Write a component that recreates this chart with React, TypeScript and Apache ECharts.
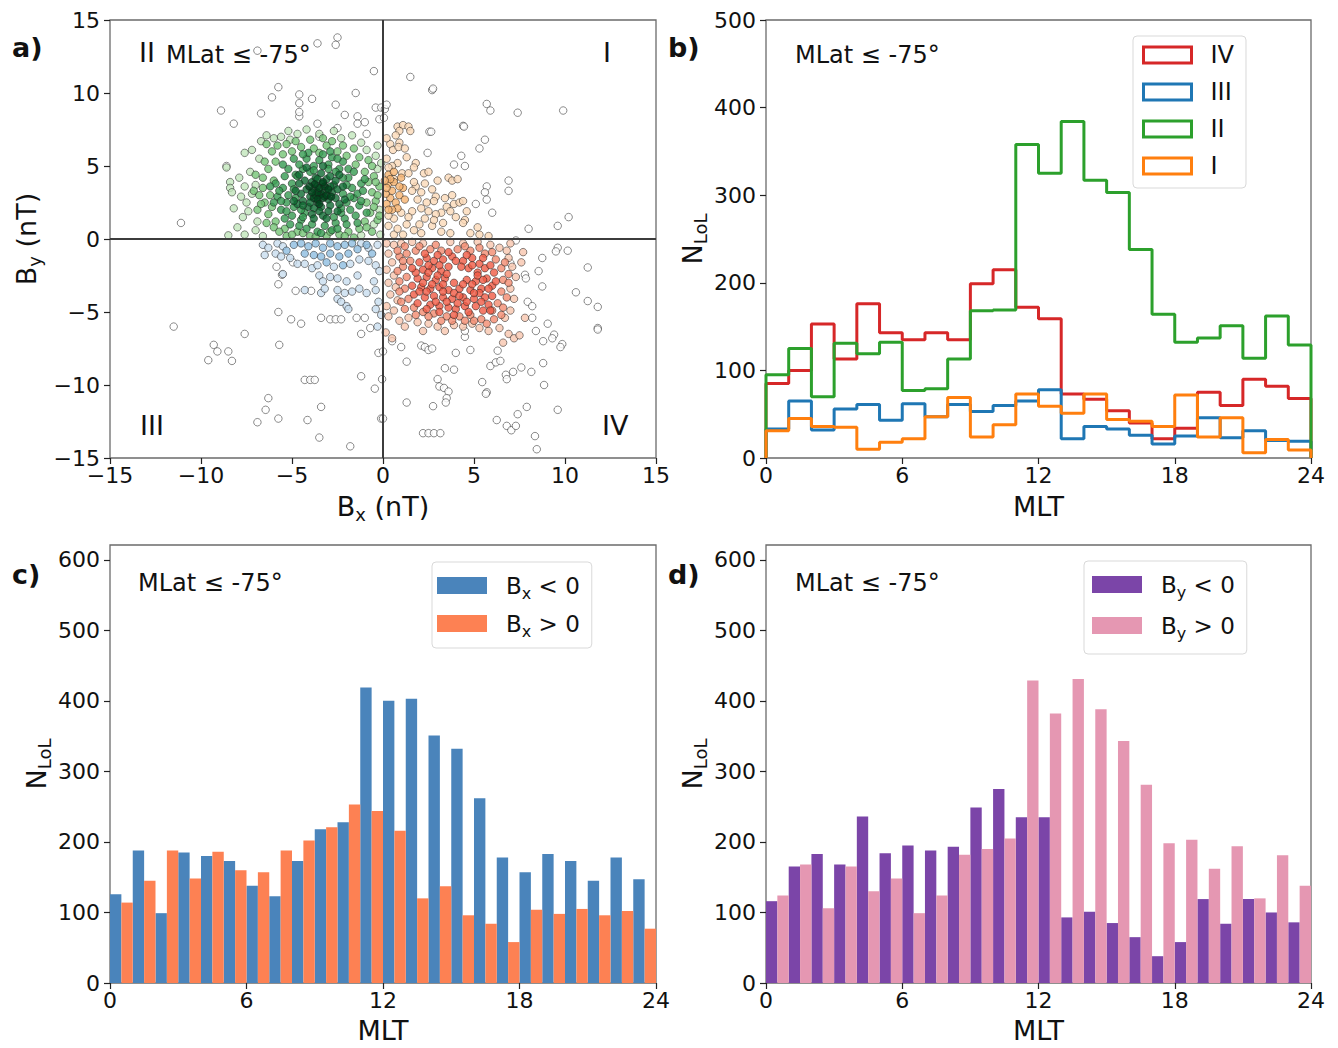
import { useEffect, useRef } from 'react';
import * as echarts from 'echarts';

// ---------------- data ----------------
const MLT_BINS = [0, 1, 2, 3, 4, 5, 6, 7, 8, 9, 10, 11, 12, 13, 14, 15, 16, 17, 18, 19, 20, 21, 22, 23];
const MLT_TICKS = [0, 6, 12, 18, 24];
const B_TICKS = [-15, -10, -5, 0, 5, 10, 15];
const COUNT_TICKS_B = [0, 100, 200, 300, 400, 500];
const COUNT_TICKS_CD = [0, 100, 200, 300, 400, 500, 600];

// panel b: step histograms per quadrant
const HIST_IV = [85, 100, 153, 113, 176, 143, 135, 143, 135, 199, 215, 172, 159, 73, 67, 54, 40, 22, 34, 75, 60, 90, 82, 68];
const HIST_III = [33, 65, 32, 56, 61, 43, 62, 47, 61, 53, 60, 65, 78, 22, 36, 33, 26, 16, 25, 46, 23, 31, 20, 19];
const HIST_II = [95, 125, 70, 131, 119, 132, 77, 79, 113, 168, 169, 358, 325, 384, 317, 303, 238, 164, 132, 137, 151, 114, 162, 129];
const HIST_I = [31, 45, 36, 35, 10, 18, 22, 47, 69, 24, 38, 73, 59, 51, 73, 44, 42, 36, 72, 24, 46, 6, 21, 9];

// panel c
const BX_NEG = [126, 188, 99, 185, 180, 173, 138, 123, 173, 218, 228, 419, 400, 403, 351, 332, 262, 178, 157, 183, 173, 145, 178, 147];
const BX_POS = [114, 145, 188, 148, 186, 160, 157, 188, 202, 221, 253, 244, 216, 120, 137, 96, 84, 58, 104, 98, 105, 96, 102, 77];
// panel d
const BY_NEG = [116, 165, 183, 168, 236, 184, 195, 188, 193, 249, 275, 235, 235, 93, 101, 85, 65, 38, 58, 119, 84, 119, 100, 86];
const BY_POS = [124, 168, 106, 165, 130, 148, 99, 124, 182, 190, 205, 429, 382, 431, 388, 343, 281, 198, 203, 162, 194, 120, 181, 138];

// panel a: scatter points (Bx, By) grouped by quadrant and density tier
const Q2_CORE = [[-3.4,3.1],[-3.6,3.2],[-3.3,2.8],[-3.5,3.5],[-3.1,3.0],[-3.8,2.8],[-3.6,2.7],[-3.2,3.6],[-3.9,3.2],[-3.0,3.4],[-3.5,2.4],[-3.3,3.9],[-3.75,3.75],[-2.85,2.9],[-4.05,3.6]];
const Q2_DARK = [[-3.5,3.0],[-3.2,3.3],[-3.8,3.4],[-3.0,2.7],[-3.6,2.5],[-4.0,2.9],[-3.3,3.8],[-2.8,3.2],[-3.9,3.9],[-4.2,3.4],[-3.4,2.2],[-2.9,2.3],[-3.7,4.2],[-3.1,4.1],[-4.4,2.6],[-2.6,2.8],[-2.7,3.7],[-4.1,2.2],[-3.5,1.9],[-3.0,1.9],[-4.5,3.1],[-2.5,3.4],[-3.6,3.6],[-3.2,2.9],[-3.8,2.1],[-4.3,4.0],[-2.9,4.3],[-3.4,4.5],[-2.4,2.4],[-4.6,3.8],[-3.9,1.7],[-2.6,4.0],[-3.3,1.6],[-4.7,2.4],[-3.7,3.0],[-4.8,3.3],[-4.6,4.4],[-4.2,4.9],[-3.3,5.0],[-2.4,4.4],[-2.2,3.6],[-2.1,2.7],[-2.5,1.9],[-3.1,1.4],[-3.8,1.4],[-4.4,2.3],[-4.9,2.6],[-2.9,3.6],[-4.0,2.5],[-3.6,4.1]];
const Q2_RING = [[-5.2,3.0],[-5.0,3.8],[-4.9,2.2],[-5.3,2.5],[-4.8,4.4],[-4.4,4.8],[-3.8,5.0],[-3.0,5.1],[-2.4,4.8],[-1.9,4.2],[-1.7,3.5],[-1.6,2.8],[-1.8,2.0],[-2.1,1.4],[-2.6,1.1],[-3.2,0.9],[-3.9,1.0],[-4.5,1.3],[-5.0,1.6],[-5.5,3.5],[-2.2,3.1],[-2.0,2.5],[-4.9,3.4],[-1.4,3.1],[-2.2,5.3],[-3.5,5.4],[-4.2,5.5],[-5.4,4.3],[-1.3,2.3],[-1.5,1.6],[-2.8,0.6],[-4.2,0.7],[-5.6,2.0],[-1.9,4.8],[-5.8,2.9],[-4.6,5.1],[-2.8,5.6],[-1.2,3.8],[-3.6,0.5],[-5.1,1.0],[-4.3,1.8],[-2.3,1.8],[-2.2,4.2],[-4.7,4.3],[-2.0,3.7],[-4.8,2.8],[-4.0,4.6],[-2.6,4.6],[-3.0,4.8],[-3.8,4.7],[-4.4,1.5],[-2.7,1.5],[-2.3,2.1],[-4.5,2.0],[-1.8,2.9],[-5.6,2.6],[-5.4,1.4],[-5.9,3.8],[-5.2,4.8],[-4.9,5.5],[-4.1,5.9],[-3.3,5.8],[-2.5,5.5],[-1.6,4.6],[-1.1,3.3],[-1.2,2.6],[-1.4,1.1],[-2.0,1.0],[-2.5,0.7],[-3.4,0.4],[-4.6,0.9],[-5.3,1.9],[-5.7,3.3],[-1.0,4.1],[-0.9,1.8],[-2.9,6.0],[-4.4,5.8],[-5.5,5.1],[-6.0,2.5],[-6.2,3.6]];
const Q2_MID = [[-6.2,3.0],[-6.5,2.5],[-6.0,4.0],[-6.3,4.8],[-5.9,5.3],[-5.5,5.8],[-5.0,6.0],[-4.5,6.3],[-3.8,6.2],[-3.1,6.4],[-2.5,6.0],[-2.0,5.7],[-1.5,5.1],[-1.0,4.6],[-0.8,3.9],[-0.6,3.2],[-0.9,2.5],[-0.7,1.8],[-1.0,1.2],[-1.3,0.7],[-1.9,0.5],[-2.4,0.3],[-3.1,0.2],[-4.0,0.2],[-4.7,0.5],[-5.4,0.7],[-5.9,1.2],[-6.3,1.7],[-6.6,3.5],[-6.1,2.2],[-0.5,4.3],[-0.4,2.6],[-0.3,1.3],[-1.6,6.2],[-4.0,6.8],[-5.8,6.4],[-6.6,4.2],[-6.9,2.0],[-0.8,5.4],[-2.8,6.7],[-3.5,5.9],[-0.2,3.6],[-6.0,0.8],[-5.3,0.2],[-0.6,0.5],[-1.6,0.1],[-6.8,3.0],[-6.5,5.3],[-6.1,6.0],[-5.3,6.5],[-4.8,6.7],[-3.3,6.9],[-2.2,6.4],[-1.3,5.6],[-0.6,5.0],[-0.4,3.9],[-0.3,3.0],[-0.5,2.2],[-0.2,1.6],[-0.9,0.8],[-2.1,0.2],[-2.9,0.5],[-3.7,0.15],[-4.4,0.4],[-5.0,0.3],[-5.7,0.5],[-6.4,1.1],[-6.7,2.4],[-7.1,3.3],[-7.0,4.4],[-6.4,6.5]];
const Q2_LIGHT = [[-8.6,4.9],[-8.4,3.9],[-8.4,3.5],[-8.3,3.2],[-8.2,2.1],[-7.7,1.5],[-8.5,0.25],[-7.6,0.3],[-7.0,0.6],[-7.2,3.1],[-7.6,3.6],[-7.0,3.7],[-7.6,5.9],[-7.2,6.1],[-6.7,6.7],[-6.4,7.1],[-6.0,6.9],[-5.6,7.0],[-5.1,6.8],[-4.7,7.2],[-4.2,7.5],[-3.5,7.2],[-2.7,7.4],[-2.3,6.9],[-1.7,7.1],[-1.2,6.6],[-0.9,6.1],[-0.4,5.7],[-0.3,4.8],[-0.2,2.0],[-0.5,1.0],[-0.15,0.3],[-1.2,0.25],[-6.8,5.5],[-7.3,4.6],[-7.5,2.5],[-6.9,1.2],[-7.4,1.9],[-6.6,0.2],[-7.9,4.2],[-5.2,7.4],[-0.1,5.2],[-0.3,6.4],[-7.8,2.9],[-8.0,0.8]];
const Q2_WHITE = [[-6.9,12.9],[-3.6,13.4],[-2.5,13.8],[-2.6,13.3],[-0.5,11.5],[-5.75,10.4],[-6.1,9.7],[-4.6,9.9],[-3.9,9.6],[-4.6,9.3],[-4.6,8.4],[-4.6,8.7],[-6.7,8.6],[-8.9,8.8],[-8.2,7.9],[-2.6,9.2],[-1.5,10.0],[-0.4,9.0],[-0.1,9.0],[-2.1,8.5],[-1.4,8.4],[-1.4,7.9],[-3.6,7.9],[-2.5,7.6],[-0.9,7.2],[-3.5,7.0],[-8.6,5.0],[-11.1,1.1],[-0.2,8.2],[-1.0,8.0]];

const Q1_MID = [[0.3,3.8],[0.5,3.3],[0.4,2.8],[0.7,2.5],[0.9,3.0],[0.6,3.9],[0.2,2.4],[0.8,2.1],[1.1,3.5],[0.3,4.4],[1.0,4.2],[0.5,2.0],[1.2,2.7],[0.15,3.1],[0.2,3.5],[0.6,4.6],[0.3,2.0],[0.9,3.6],[0.4,4.1],[0.1,4.0]];
const Q1_LIGHT = [[0.8,7.7],[1.1,7.8],[1.4,7.7],[1.5,7.4],[0.9,7.4],[0.4,6.5],[0.9,6.6],[0.55,6.1],[0.85,6.3],[0.8,5.2],[1.8,5.2],[1.7,4.9],[1.05,4.5],[1.4,4.5],[0.6,4.1],[2.25,4.5],[2.5,4.6],[3.6,4.2],[3.8,4.0],[4.1,4.1],[1.8,3.6],[1.7,3.9],[1.6,3.3],[2.7,3.4],[2.9,2.9],[2.8,2.6],[3.4,2.8],[3.8,3.0],[3.9,2.4],[3.5,2.2],[3.7,1.9],[3.2,1.8],[2.9,1.7],[4.2,2.5],[4.4,2.6],[2.4,2.5],[2.5,1.9],[2.3,1.4],[1.6,1.9],[1.4,1.5],[0.6,1.4],[4.5,1.3],[4.4,1.1],[3.3,1.1],[3.2,0.5],[3.7,0.4],[2.1,0.4],[1.1,0.3],[0.6,0.3],[4.8,0.4],[5.3,0.3],[5.8,0.2],[5.2,0.8],[2.0,1.0],[1.3,1.0],[0.3,0.9],[0.2,5.5],[0.5,5.0],[0.3,4.9],[1.3,5.6],[1.2,6.2],[0.2,6.9],[0.7,7.1],[2.1,3.2],[2.3,3.8],[1.9,2.7],[2.1,2.1],[1.0,1.8],[0.3,1.6],[0.8,0.7],[1.7,0.6],[2.7,0.9],[2.8,1.3],[4.0,1.5],[4.6,1.9],[3.0,4.0]];
const Q1_WHITE = [[1.5,11.1],[2.7,10.2],[2.75,10.3],[5.7,9.25],[5.9,8.8],[7.4,8.65],[9.9,8.8],[4.4,7.75],[4.45,7.7],[2.55,7.35],[2.65,7.35],[5.6,6.8],[5.3,6.2],[4.3,5.7],[2.45,5.9],[4.5,5.0],[3.9,5.1],[6.9,4.0],[6.9,3.3],[5.7,3.6],[5.6,3.2],[5.7,2.7],[5.1,2.4],[6.0,1.8],[10.2,1.5],[9.6,0.9],[8.0,0.7],[0.05,8.3],[0.1,8.9],[0.2,9.2]];

const Q3_MID = [[-4.9,-0.4],[-4.5,-0.3],[-4.1,-0.5],[-3.7,-0.3],[-3.3,-0.6],[-2.9,-0.3],[-2.5,-0.5],[-2.1,-0.4],[-1.7,-0.3],[-4.3,-1.0],[-3.8,-1.1],[-3.4,-1.2],[-2.9,-1.0],[-2.4,-1.2],[-1.9,-1.0],[-1.4,-0.7],[-5.3,-0.8],[-3.1,-1.6],[-2.2,-1.8],[-0.9,-0.4],[-0.6,-1.0]];
const Q3_LIGHT = [[-6.6,-0.4],[-6.3,-0.6],[-5.8,-0.3],[-5.5,-0.5],[-1.2,-0.3],[-0.8,-0.6],[-0.3,-0.4],[-6.5,-1.1],[-5.9,-1.0],[-5.6,-1.2],[-5.1,-1.3],[-4.7,-1.7],[-4.3,-1.7],[-3.9,-2.0],[-3.6,-1.8],[-2.7,-1.9],[-1.8,-1.7],[-1.3,-1.4],[-0.8,-1.5],[-0.4,-1.8],[-5.5,-2.4],[-3.5,-2.5],[-3.3,-2.9],[-2.9,-2.6],[-2.5,-2.7],[-2.0,-2.9],[-1.4,-2.5],[-0.5,-2.9],[-0.2,-2.2],[-4.3,-3.5],[-3.4,-3.7],[-3.2,-3.4],[-2.5,-3.5],[-2.1,-3.7],[-1.7,-3.6],[-1.3,-3.4],[-0.9,-3.7],[-0.4,-3.5],[-2.5,-4.1],[-2.3,-4.3],[-2.0,-4.6],[-1.9,-4.8],[-0.4,-4.8],[-0.25,-4.3],[-0.1,-5.2],[-0.3,-6.0]];
const Q3_WHITE = [[-11.5,-6.0],[-7.6,-6.5],[-9.3,-7.25],[-9.1,-7.7],[-8.5,-7.7],[-9.6,-8.3],[-8.3,-8.35],[-5.7,-7.25],[-5.75,-5.0],[-5.05,-5.5],[-4.5,-5.8],[-3.4,-5.4],[-2.9,-5.5],[-2.6,-5.5],[-2.3,-5.5],[-1.45,-5.4],[-1.0,-5.4],[-0.7,-6.1],[-1.2,-6.5],[-0.25,-7.8],[-1.2,-9.4],[-0.45,-10.25],[-4.3,-9.65],[-4.0,-9.65],[-3.75,-9.65],[-6.3,-10.9],[-6.45,-11.7],[-5.75,-12.3],[-6.9,-12.55],[-4.15,-12.4],[-3.4,-11.5],[-3.5,-13.6],[-1.8,-14.2],[-0.1,-12.3],[-4.8,-3.55],[-3.95,-3.55],[-5.75,-3.1],[-5.55,-2.45],[-5.85,-1.9],[-4.95,-1.6]];

const Q4_CORE = [[2.0,-1.6],[2.4,-1.3],[2.8,-1.5],[3.3,-1.4],[3.8,-1.2],[4.4,-1.5],[4.9,-1.3],[5.3,-1.7],[2.2,-2.1],[2.7,-2.0],[3.2,-2.2],[3.6,-1.9],[4.7,-2.0],[5.2,-2.3],[5.6,-2.0],[1.9,-2.7],[2.4,-2.6],[2.9,-2.8],[3.4,-2.7],[3.9,-3.0],[4.6,-2.8],[5.1,-2.9],[5.7,-2.7],[2.1,-3.3],[2.6,-3.4],[3.1,-3.3],[3.6,-3.5],[4.2,-3.4],[4.8,-3.5],[5.4,-3.4],[2.3,-4.0],[2.8,-3.9],[3.3,-4.0],[3.8,-4.1],[4.4,-4.0],[5.0,-4.1],[5.6,-4.0],[2.6,-4.5],[3.1,-4.6],[3.6,-4.7],[4.5,-4.6],[5.1,-4.6],[5.5,-4.9],[4.0,-4.8],[6.0,-3.2],[6.1,-2.3],[1.7,-3.8],[2.5,-2.3],[3.0,-2.5],[3.5,-2.4],[2.2,-3.0],[2.7,-3.1],[3.3,-3.6],[3.9,-3.7],[4.4,-3.1],[4.9,-3.1],[5.3,-3.7],[5.8,-3.4],[2.0,-3.6],[4.6,-4.3],[5.2,-2.5],[4.3,-1.9],[3.1,-1.8],[2.5,-1.8],[1.8,-2.3],[5.8,-4.5],[2.9,-4.3],[3.5,-4.3],[4.1,-4.4],[5.4,-4.3],[4.9,-1.8],[2.3,-1.0],[3.0,-1.1],[3.6,-0.9],[4.6,-1.1],[5.5,-1.3],[5.9,-1.8],[6.2,-2.9],[6.0,-3.9],[5.9,-4.9],[4.7,-5.0],[3.9,-5.2],[3.1,-5.0],[2.4,-4.8],[1.9,-4.4],[1.6,-3.2],[1.6,-2.0],[4.0,-1.5],[4.2,-3.9],[3.3,-3.1],[2.4,-3.6],[5.0,-3.7],[5.5,-2.8]];
const Q4_MID = [[1.3,-1.0],[1.8,-0.8],[2.6,-0.7],[3.2,-0.8],[4.1,-0.7],[4.8,-0.8],[5.6,-1.0],[6.2,-1.4],[6.5,-2.0],[6.6,-2.8],[6.5,-3.6],[6.3,-4.4],[6.0,-4.9],[6.1,-5.5],[5.4,-5.5],[4.8,-5.2],[4.2,-5.3],[3.5,-5.3],[2.8,-5.1],[2.2,-5.0],[1.7,-4.7],[1.4,-4.1],[1.2,-3.4],[1.3,-2.6],[1.1,-1.9],[1.5,-1.5],[0.9,-1.2],[0.8,-0.8],[1.2,-0.5],[2.0,-0.5],[2.9,-0.4],[4.5,-0.5],[5.3,-0.6],[6.0,-0.9],[6.7,-1.6],[6.9,-2.4],[6.9,-3.0],[6.8,-4.0],[6.6,-4.7],[6.5,-5.2],[5.7,-5.8],[5.0,-5.6],[4.5,-5.6],[3.8,-5.6],[3.2,-5.6],[2.5,-5.3],[1.8,-5.2],[1.2,-4.8],[1.0,-4.3],[0.9,-3.6],[0.9,-2.9],[0.8,-2.2],[1.1,-1.5]];
const Q4_LIGHT = [[0.2,-0.3],[0.6,-0.4],[1.0,-0.3],[1.6,-0.2],[2.2,-0.3],[3.7,-0.2],[4.4,-0.3],[5.2,-0.2],[5.9,-0.4],[6.4,-0.6],[6.8,-0.8],[7.0,-0.3],[0.3,-1.0],[0.5,-1.6],[0.2,-2.1],[0.6,-2.5],[0.3,-3.0],[0.7,-3.3],[0.4,-3.8],[0.8,-4.2],[0.2,-4.6],[0.6,-4.9],[0.3,-5.3],[0.9,-5.6],[1.4,-5.4],[1.9,-5.7],[2.5,-5.8],[3.0,-6.0],[3.4,-6.3],[3.9,-5.9],[4.4,-6.0],[4.9,-5.8],[5.3,-6.1],[5.8,-6.3],[6.4,-6.1],[6.7,-5.4],[7.0,-4.9],[7.2,-4.1],[7.0,-3.4],[7.3,-2.6],[7.1,-1.9],[6.9,-1.3],[7.6,-1.6],[7.7,-0.9],[0.15,-6.4],[0.5,-6.8],[6.9,-6.5],[7.2,-6.8],[7.5,-6.6],[6.6,-7.1],[7.8,-5.4],[1.2,-6.0],[2.2,-6.3]];
const Q4_WHITE = [[9.6,-0.6],[9.5,-0.85],[10.15,-0.8],[11.25,-1.95],[10.6,-3.65],[11.25,-4.25],[11.8,-4.65],[11.8,-6.1],[11.8,-6.2],[8.75,-1.3],[8.55,-2.2],[7.8,-2.45],[7.85,-2.7],[8.75,-3.25],[7.95,-4.3],[8.2,-4.6],[8.2,-5.4],[8.4,-6.3],[9.05,-5.8],[8.8,-7.0],[9.4,-6.55],[9.3,-6.8],[9.85,-7.2],[9.75,-7.4],[7.0,-1.65],[7.3,-0.1],[1.3,-8.4],[1.3,-11.2],[2.1,-7.3],[2.3,-7.4],[2.5,-7.6],[2.7,-7.5],[3.4,-8.85],[3.9,-8.95],[3.0,-9.6],[3.1,-10.1],[3.35,-10.2],[3.6,-10.45],[3.5,-10.9],[3.45,-11.2],[2.75,-11.45],[2.2,-13.3],[2.5,-13.3],[2.8,-13.3],[3.15,-13.3],[4.0,-7.8],[4.5,-6.7],[4.8,-7.6],[4.5,-6.3],[5.45,-9.8],[5.7,-10.5],[5.65,-10.6],[5.9,-8.7],[6.2,-8.45],[6.45,-8.35],[6.3,-7.65],[6.25,-12.4],[6.75,-9.3],[6.8,-9.6],[7.15,-9.1],[7.6,-8.8],[8.15,-9.1],[8.8,-8.5],[8.85,-10.0],[7.4,-12.0],[7.9,-11.5],[6.8,-12.8],[7.05,-13.1],[7.3,-12.8],[9.6,-11.7],[8.35,-13.5],[8.45,-14.4],[0.0,-12.3],[-0.05,-9.6],[0.0,-7.7],[0.5,-7.0],[1.0,-7.4]];

// ---------------- styling ----------------
const FONT = 'DejaVu Sans';
const INK = '#111111';
const fmt = (v: number) => (v < 0 ? '\u2212' + Math.abs(v) : String(v));

const NAME_RICH = {
  n: { fontSize: 27, fontFamily: FONT, color: INK, lineHeight: 27 },
  s: { fontSize: 18, fontFamily: FONT, color: INK, lineHeight: 27, padding: [16, 0, 0, 0] },
};

function valueAxis(gridIndex: number, min: number, max: number, ticks: number[], name: string, nameGap: number, isY: boolean) {
  const step = ticks[1] - ticks[0];
  return {
    type: 'value',
    gridIndex,
    min,
    max,
    interval: step,
    name,
    nameLocation: 'middle',
    nameGap,
    nameRotate: isY ? 90 : 0,
    nameTextStyle: { fontFamily: FONT, fontSize: 27, color: INK, lineHeight: 27, rich: NAME_RICH },
    axisLine: { show: false, onZero: false },
    axisTick: { show: true, inside: false, length: 6, customValues: ticks, lineStyle: { color: '#222', width: 1.2 } },
    axisLabel: {
      show: true,
      customValues: ticks,
      fontFamily: FONT,
      fontSize: 22,
      color: INK,
      margin: isY ? 10 : 6,
      formatter: (v: number) => (ticks.indexOf(v) >= 0 ? fmt(v) : ''),
    },
    splitLine: { show: false },
  };
}

function stepPoints(values: number[]) {
  const pts: number[][] = [[MLT_BINS[0], 0]];
  values.forEach((v, i) => {
    pts.push([MLT_BINS[i], v]);
    pts.push([MLT_BINS[i] + 1, v]);
  });
  pts.push([MLT_BINS[MLT_BINS.length - 1] + 1, 0]);
  return pts;
}

function stepSeries(name: string, values: number[], color: string) {
  return {
    type: 'line',
    name,
    xAxisIndex: 1,
    yAxisIndex: 1,
    data: stepPoints(values),
    showSymbol: false,
    symbol: 'none',
    lineStyle: { color, width: 3 },
    itemStyle: { color },
    silent: true,
  };
}

function histBars(name: string, values: number[], offset: number, color: string, axisIndex: number) {
  return {
    type: 'custom',
    name,
    xAxisIndex: axisIndex,
    yAxisIndex: axisIndex,
    data: MLT_BINS.map((h, i) => [h + offset, values[i], h + offset + 0.5]),
    encode: { x: [0, 2], y: 1 },
    itemStyle: { color },
    silent: true,
    renderItem: (_params: any, api: any) => {
      const p0 = api.coord([api.value(0), api.value(1)]);
      const p1 = api.coord([api.value(2), 0]);
      return {
        type: 'rect',
        shape: { x: p0[0], y: p0[1], width: p1[0] - p0[0], height: p1[1] - p0[1] },
        style: { fill: color },
      };
    },
  };
}

const SCATTER_LAYERS = [
  { name: 'q2-white', data: Q2_WHITE, color: '#ffffff' },
  { name: 'q1-white', data: Q1_WHITE, color: '#ffffff' },
  { name: 'q3-white', data: Q3_WHITE, color: '#ffffff' },
  { name: 'q4-white', data: Q4_WHITE, color: '#ffffff' },
  { name: 'q2-light', data: Q2_LIGHT, color: '#c2e6bb' },
  { name: 'q1-light', data: Q1_LIGHT, color: '#fbdab8' },
  { name: 'q3-light', data: Q3_LIGHT, color: '#c8ddef' },
  { name: 'q4-light', data: Q4_LIGHT, color: '#f8c5ae' },
  { name: 'q2-mid', data: Q2_MID, color: '#74c476' },
  { name: 'q1-mid', data: Q1_MID, color: '#f6b36f' },
  { name: 'q3-mid', data: Q3_MID, color: '#8dbde0' },
  { name: 'q4-mid', data: Q4_MID, color: '#f38b6f' },
  { name: 'q2-ring', data: Q2_RING, color: '#359a50' },
  { name: 'q4-core', data: Q4_CORE, color: '#f05a44' },
  { name: 'q2-dark', data: Q2_DARK, color: '#0f6a32' },
  { name: 'q2-core', data: Q2_CORE, color: '#00441b' },
];

function scatterSeries() {
  return SCATTER_LAYERS.map((layer, idx) => {
    const s: any = {
      type: 'scatter',
      name: layer.name,
      xAxisIndex: 0,
      yAxisIndex: 0,
      data: layer.data,
      symbol: 'circle',
      symbolSize: 7.5,
      silent: true,
      itemStyle: { color: layer.color, borderColor: 'rgba(25,25,25,0.8)', borderWidth: 0.8 },
    };
    if (idx === SCATTER_LAYERS.length - 1) {
      s.markLine = {
        silent: true,
        symbol: ['none', 'none'],
        label: { show: false },
        lineStyle: { color: '#3c3c3c', width: 2, type: 'solid' },
        data: [{ xAxis: 0 }, { yAxis: 0 }],
      };
    }
    return s;
  });
}

const LEG_RICH_SUB = {
  sp: { width: 14 },
  n: { fontSize: 23, fontFamily: FONT, color: INK, lineHeight: 28 },
  s: { fontSize: 16, fontFamily: FONT, color: INK, lineHeight: 28, padding: [15, 0, 0, 0] },
};

const LEGEND_LABELS: Record<string, string> = {
  'Bx<0': '{sp|}{n|B}{s|x}{n| < 0}',
  'Bx>0': '{sp|}{n|B}{s|x}{n| > 0}',
  'By<0': '{sp|}{n|B}{s|y}{n| < 0}',
  'By>0': '{sp|}{n|B}{s|y}{n| > 0}',
};

function txt(x: number, y: number, text: string, size: number, weight = 'normal') {
  return {
    type: 'text',
    x,
    y,
    z: 100,
    silent: true,
    style: { text, fontFamily: FONT, fontSize: size, fontWeight: weight, fill: INK, align: 'left', verticalAlign: 'middle' },
  };
}

function buildOption() {
  const gridBase = { show: true, borderColor: '#6b6b6b', borderWidth: 1.3, backgroundColor: 'rgba(0,0,0,0)', containLabel: false, outerBoundsMode: 'none' };
  const COLORS = { IV: '#d62728', III: '#1f77b4', II: '#2ca02c', I: '#ff7f0e' };
  return {
    animation: false,
    backgroundColor: '#ffffff',
    textStyle: { fontFamily: FONT },
    grid: [
      { ...gridBase, left: 110, top: 20, width: 546, height: 438 },
      { ...gridBase, left: 766, top: 20, width: 545, height: 438 },
      { ...gridBase, left: 110, top: 545, width: 546, height: 438 },
      { ...gridBase, left: 766, top: 545, width: 545, height: 438 },
    ],
    xAxis: [
      valueAxis(0, -15, 15, B_TICKS, '{n|B}{s|x}{n| (nT)}', 35, false),
      valueAxis(1, 0, 24, MLT_TICKS, '{n|MLT}', 35, false),
      valueAxis(2, 0, 24, MLT_TICKS, '{n|MLT}', 34, false),
      valueAxis(3, 0, 24, MLT_TICKS, '{n|MLT}', 34, false),
    ],
    yAxis: [
      valueAxis(0, -15, 15, B_TICKS, '{n|B}{s|y}{n| (nT)}', 70, true),
      valueAxis(1, 0, 500, COUNT_TICKS_B, '{n|N}{s|LoL}', 60, true),
      valueAxis(2, 0, 621, COUNT_TICKS_CD, '{n|N}{s|LoL}', 60, true),
      valueAxis(3, 0, 621, COUNT_TICKS_CD, '{n|N}{s|LoL}', 60, true),
    ],
    legend: [
      {
        orient: 'vertical',
        left: 1133,
        top: 36,
        padding: [7, 12, 10, 9],
        itemWidth: 48,
        itemHeight: 16,
        itemGap: 13,
        backgroundColor: '#ffffff',
        borderColor: '#d9d9d9',
        borderWidth: 1,
        borderRadius: 4,
        selectedMode: false,
        formatter: (name: string) => '{sp|}{n|' + name + '}',
        textStyle: { rich: { sp: { width: 14 }, n: { fontSize: 24, fontFamily: FONT, color: INK, lineHeight: 24 } } },
        data: (['IV', 'III', 'II', 'I'] as const).map((n) => ({
          name: n,
          icon: 'rect',
          itemStyle: { color: '#ffffff', borderColor: COLORS[n], borderWidth: 3 },
          lineStyle: { width: 0, opacity: 0 },
        })),
      },
      {
        orient: 'vertical',
        left: 432,
        top: 562,
        padding: [8, 12, 9, 5],
        itemWidth: 50,
        itemHeight: 17,
        itemGap: 7,
        backgroundColor: '#ffffff',
        borderColor: '#d9d9d9',
        borderWidth: 1,
        borderRadius: 4,
        selectedMode: false,
        formatter: (name: string) => LEGEND_LABELS[name],
        textStyle: { rich: LEG_RICH_SUB },
        data: [
          { name: 'Bx<0', icon: 'rect', itemStyle: { color: '#4a84bb', borderWidth: 0 } },
          { name: 'Bx>0', icon: 'rect', itemStyle: { color: '#fd8153', borderWidth: 0 } },
        ],
      },
      {
        orient: 'vertical',
        left: 1084,
        top: 561,
        padding: [8, 12, 13, 8],
        itemWidth: 50,
        itemHeight: 17,
        itemGap: 10,
        backgroundColor: '#ffffff',
        borderColor: '#d9d9d9',
        borderWidth: 1,
        borderRadius: 4,
        selectedMode: false,
        formatter: (name: string) => LEGEND_LABELS[name],
        textStyle: { rich: LEG_RICH_SUB },
        data: [
          { name: 'By<0', icon: 'rect', itemStyle: { color: '#7b45a8', borderWidth: 0 } },
          { name: 'By>0', icon: 'rect', itemStyle: { color: '#e597b2', borderWidth: 0 } },
        ],
      },
    ],
    series: [
      ...scatterSeries(),
      stepSeries('IV', HIST_IV, COLORS.IV),
      stepSeries('III', HIST_III, COLORS.III),
      stepSeries('II', HIST_II, COLORS.II),
      stepSeries('I', HIST_I, COLORS.I),
      histBars('Bx<0', BX_NEG, 0, '#4a84bb', 2),
      histBars('Bx>0', BX_POS, 0.5, '#fd8153', 2),
      histBars('By<0', BY_NEG, 0, '#7b45a8', 3),
      histBars('By>0', BY_POS, 0.5, '#e597b2', 3),
    ],
    graphic: [
      txt(12, 47, 'a)', 27, 'bold'),
      txt(668, 47, 'b)', 27, 'bold'),
      txt(12, 574, 'c)', 27, 'bold'),
      txt(668, 574, 'd)', 27, 'bold'),
      txt(166, 55, 'MLat \u2264 -75\u00b0', 24),
      txt(795, 55, 'MLat \u2264 -75\u00b0', 24),
      txt(138, 583, 'MLat \u2264 -75\u00b0', 24),
      txt(795, 583, 'MLat \u2264 -75\u00b0', 24),
      txt(139, 52, 'II', 27),
      txt(603, 52, 'I', 27),
      txt(140, 425, 'III', 27),
      txt(602, 425, 'IV', 27),
    ],
  };
}

export default function App() {
  const ref = useRef<HTMLDivElement>(null);
  useEffect(() => {
    if (!ref.current) return;
    const chart = echarts.init(ref.current, null, { renderer: 'svg' });
    chart.setOption(buildOption() as any);
    return () => {
      chart.dispose();
    };
  }, []);
  return (
    <div
      ref={ref}
      style={{ position: 'absolute', left: 0, top: 0, width: 1338, height: 1048, background: '#ffffff' }}
    />
  );
}
